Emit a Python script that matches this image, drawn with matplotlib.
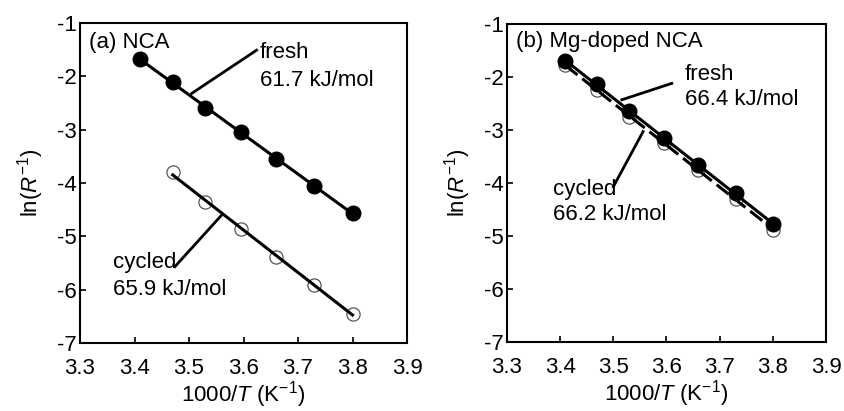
import numpy as np
import matplotlib
matplotlib.use("Agg")
import matplotlib.pyplot as plt

plt.rcParams['font.family'] = ['Liberation Sans', 'DejaVu Sans']
plt.rcParams['mathtext.fontset'] = 'custom'
plt.rcParams['mathtext.rm'] = 'Liberation Sans'
plt.rcParams['mathtext.it'] = 'Liberation Sans:italic'

# Data
x_fresh = [3.41, 3.47, 3.53, 3.595, 3.66, 3.73, 3.80]
x_cyc_a = [3.47, 3.53, 3.595, 3.66, 3.73, 3.80]
a_fresh = [-1.68, -2.10, -2.60, -3.05, -3.55, -4.05, -4.57]
a_cycled = [-3.80, -4.36, -4.86, -5.38, -5.92, -6.45]
b_fresh = [-1.70, -2.13, -2.65, -3.16, -3.67, -4.19, -4.77]
b_cycled = [-1.78, -2.25, -2.75, -3.25, -3.75, -4.30, -4.88]
xticks = [3.3, 3.4, 3.5, 3.6, 3.7, 3.8, 3.9]
yticks = [-7, -6, -5, -4, -3, -2, -1]

fig = plt.figure(figsize=(8.45, 4.11), dpi=100)
axa = fig.add_axes([0.0947, 0.1655, 0.387, 0.7786])
axb = fig.add_axes([0.600, 0.168, 0.3775, 0.7736])

FS = 16

def fitline(ax, x, y, ls='-'):
    p = np.polyfit(x, y, 1)
    xx = np.array([x[0], x[-1]])
    ax.plot(xx, np.polyval(p, xx), color='black', lw=2.2, ls=ls, zorder=2)

def style(ax):
    ax.set_xlim(3.3, 3.9)
    ax.set_ylim(-7, -1)
    ax.set_xticks(xticks)
    ax.set_yticks(yticks)
    ax.set_xticklabels([f"{v:.1f}" for v in xticks])
    ax.set_yticklabels([f"-{abs(v)}" for v in yticks])
    ax.tick_params(axis='x', direction='in', length=4, width=1.2, labelsize=FS, pad=11)
    ax.tick_params(axis='y', direction='in', length=4, width=1.2, labelsize=FS, pad=2)
    for s in ax.spines.values():
        s.set_linewidth(1.5)
    ax.set_xlabel("1000/$T$ (K$^{-1}$)", fontsize=FS, labelpad=0)
    ax.set_ylabel("ln($R^{-1}$)", fontsize=FS, labelpad=8)

# Panel a
fitline(axa, x_fresh, a_fresh)
fitline(axa, x_cyc_a, a_cycled)
axa.plot(x_fresh, a_fresh, 'o', ms=10.5, mfc='black', mec='black', zorder=3)
axa.plot(x_cyc_a, a_cycled, 'o', ms=9.5, mfc='white', mec='#555555', mew=0.9, zorder=1)
axa.plot([3.505, 3.624], [-2.32, -1.51], color='black', lw=2)
axa.plot([3.56, 3.474], [-4.6, -5.57], color='black', lw=2)
axa.text(3.317, -1.36, "(a) NCA", fontsize=FS, va='center', ha='left')
axa.text(3.63, -1.56, "fresh", fontsize=FS, va='center', ha='left')
axa.text(3.63, -2.07, "61.7 kJ/mol", fontsize=FS, va='center', ha='left')
axa.text(3.36, -5.5, "cycled", fontsize=FS, va='center', ha='left')
axa.text(3.36, -6.0, "65.9 kJ/mol", fontsize=FS, va='center', ha='left')
style(axa)

# Panel b
axb.plot(x_fresh, b_cycled, 'o', ms=9.5, mfc='white', mec='#555555', mew=0.9, zorder=1)
fitline(axb, x_fresh, b_cycled, ls=(0, (5, 2)))
fitline(axb, x_fresh, b_fresh)
axb.plot(x_fresh, b_fresh, 'o', ms=10.5, mfc='black', mec='black', zorder=3)
axb.plot([3.516, 3.61], [-2.43, -2.12], color='black', lw=2)
axb.plot([3.556, 3.50], [-3.03, -4.07], color='black', lw=2)
axb.text(3.317, -1.33, "(b) Mg-doped NCA", fontsize=FS, va='center', ha='left')
axb.text(3.635, -1.96, "fresh", fontsize=FS, va='center', ha='left')
axb.text(3.635, -2.43, "66.4 kJ/mol", fontsize=FS, va='center', ha='left')
axb.text(3.386, -4.13, "cycled", fontsize=FS, va='center', ha='left')
axb.text(3.386, -4.6, "66.2 kJ/mol", fontsize=FS, va='center', ha='left')
style(axb)

fig.savefig("out.png", dpi=100)
